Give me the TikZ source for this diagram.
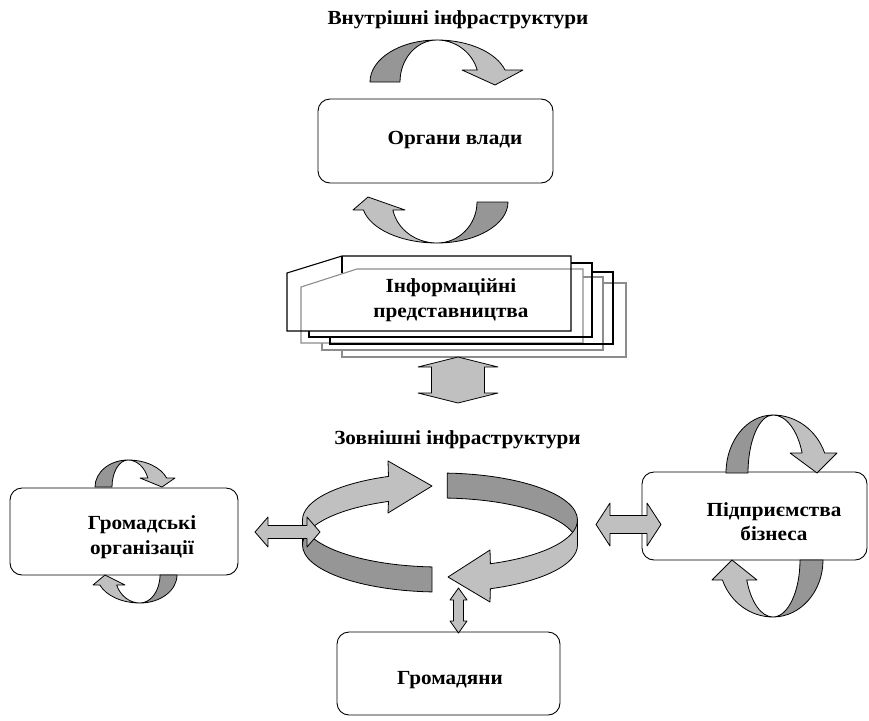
\documentclass[tikz,border=0pt]{standalone}
\usepackage{fontspec}
\setmainfont{Liberation Serif}
\newfontfamily\lblfont{Liberation Serif}[FakeStretch=1.06]
\definecolor{dkgray}{RGB}{150,150,150}
\definecolor{ltgray}{RGB}{192,192,192}
\definecolor{shadowgray}{RGB}{140,140,140}
\tikzset{
  dk/.style={fill=dkgray,draw=black,line width=0.8pt,line join=round},
  lt/.style={fill=ltgray,draw=black,line width=0.8pt,line join=round},
  box/.style={draw=black,line width=0.9pt,rounded corners=12pt},
  doc/.style={draw=black,line width=1.1pt},
  docshadow/.style={draw=shadowgray,line width=1.1pt},
  lbl/.style={font=\lblfont\bfseries\fontsize{20}{24.5}\selectfont,align=center,inner sep=0pt}
}
% twisted curved arrow: #1 dark outer r, #2 dark inner r, #3 light outer r, #4 light inner r,
% #5 height, #6 head base level, #7 inner wing x, #8 outer wing x, #9 tip
\newcommand{\twistarrow}[9]{%
  \filldraw[dk] (-#1,0) arc[start angle=180,end angle=90,x radius=#1,y radius=#5]
     arc[start angle=90,end angle=180,x radius=#2,y radius=#5] -- cycle;
  \filldraw[lt] (0,#5) arc[start angle=90,end angle={asin(#6/#5)},x radius=#3,y radius=#5]
     -- (#8,#6) -- #9 -- (#7,#6) -- ({#4*cos(asin(#6/#5))},#6)
     arc[start angle={asin(#6/#5)},end angle=90,x radius=#4,y radius=#5] -- cycle;
}
% horizontal double arrow: x1, x2, yc, head half height, shaft half height, head length
\newcommand{\hdarrow}[6]{%
  \filldraw[lt] (#1,#3) -- ({#1+#6},{#3-#4}) -- ({#1+#6},{#3-#5}) -- ({#2-#6},{#3-#5})
    -- ({#2-#6},{#3-#4}) -- (#2,#3) -- ({#2-#6},{#3+#4}) -- ({#2-#6},{#3+#5})
    -- ({#1+#6},{#3+#5}) -- ({#1+#6},{#3+#4}) -- cycle;
}
% vertical double arrow: y1, y2, xc, head half width, shaft half width, head length
\newcommand{\vdarrow}[6]{%
  \filldraw[lt] (#3,#1) -- ({#3-#4},{#1+#6}) -- ({#3-#5},{#1+#6}) -- ({#3-#5},{#2-#6})
    -- ({#3-#4},{#2-#6}) -- (#3,#2) -- ({#3+#4},{#2-#6}) -- ({#3+#5},{#2-#6})
    -- ({#3+#5},{#1+#6}) -- ({#3+#4},{#1+#6}) -- cycle;
}
\begin{document}
\begin{tikzpicture}[x=1pt,y=-1pt]
\useasboundingbox (0,0) rectangle (869,720);

% titles
\node[lbl] (inner) at (458,20) {Внутрішні інфраструктури};
\node[lbl] (outer) at (457.5,440) {Зовнішні інфраструктури};

% boxes
\draw[box] (318,99) rectangle (553,183);
\node[lbl] (organy) at (455,140) {Органи влади};
\draw[box] (10,488) rectangle (238,575);
\node[lbl] (gromorg) at (142,537) {Громадські\\організації};
\draw[box] (642,472) rectangle (867,560);
\node[lbl] (biz) at (774,521.5) {Підприємства\\бізнеса};
\draw[box] (337,632) rectangle (560,715);
\node[lbl] (gromadyany) at (450,680) {Громадяни};

% curved twisted arrows
\begin{scope}[shift={(437,82)},yscale=-1]
  \twistarrow{67}{37}{71}{42}{42}{12}{25}{86}{(58,-3)}
\end{scope}
\begin{scope}[shift={(437,202)},xscale=-1]
  \twistarrow{71}{40}{75}{45}{41}{8}{32}{84}{(69,-5)}
\end{scope}
\begin{scope}[shift={(128,487)},yscale=-1]
  \twistarrow{33}{16}{41}{21}{27}{9}{12}{47}{(34,0)}
\end{scope}
\begin{scope}[shift={(140,575)},xscale=-1]
  \twistarrow{37}{20}{43}{25}{28}{10}{15}{47}{(35,0)}
\end{scope}
\begin{scope}[shift={(773,473)},yscale=-1]
  \twistarrow{47}{25}{55}{31}{58}{20}{17}{64}{(44,0)}
\end{scope}
\begin{scope}[shift={(773,560)},xscale=-1]
  \twistarrow{50}{27}{54}{28}{57}{20}{16}{61}{(41,0)}
\end{scope}

% document stack: gray shadow
\draw[docshadow] (301,287) -- (357,269) -- (583,269) -- (583,343) -- (301,343) -- cycle;
\draw[docshadow] (583,277) -- (603,277) -- (603,350) -- (322,350) -- (322,343);
\draw[docshadow] (603,283) -- (626,283) -- (626,357) -- (342,357) -- (342,350);
% document stack: black pages
\draw[doc] (287,273) -- (342,256) -- (571,256) -- (571,331) -- (287,331) -- cycle;
\draw[doc] (342,256) -- (342,273);
\draw[doc] (571,263) -- (592,263) -- (592,337) -- (309,337) -- (309,331);
\draw[doc] (592,272) -- (613,272) -- (613,344) -- (330,344) -- (330,337);
\node[lbl] (info) at (451,300) {Інформаційні\\представництва};

% big vertical double arrow
\vdarrow{357}{403}{458}{40}{26.5}{10}

% ring
\filldraw[dk] (447.2,473.1) arc[start angle=273,end angle=360,x radius=137.5,y radius=47]
  -- (577.5,545) arc[start angle=360,end angle=273,x radius=137.5,y radius=47] -- cycle;
\filldraw[lt] (577.5,545) arc[start angle=0,end angle=68.5,x radius=137.5,y radius=47]
  -- (490,602) -- (448,577) -- (490,550) -- ({440+137.5*cos(68.5)},{520+47*sin(68.5)})
  arc[start angle=68.5,end angle=0,x radius=137.5,y radius=47] -- cycle;
\filldraw[dk] (302.5,520) arc[start angle=180,end angle=93.3,x radius=137.5,y radius=47]
  -- ({440+137.5*cos(93.3)},{545+47*sin(93.3)})
  arc[start angle=93.3,end angle=180,x radius=137.5,y radius=47] -- cycle;
\filldraw[lt] (302.5,520) arc[start angle=180,end angle=248,x radius=137.5,y radius=47]
  -- (388,461) -- (432,486) -- (388,513) -- ({440+137.5*cos(248)},{545+47*sin(248)})
  arc[start angle=248,end angle=180,x radius=137.5,y radius=47] -- cycle;

% small double arrows
\hdarrow{255}{320}{532}{15}{6.5}{13}
\hdarrow{596}{661}{524.5}{21.5}{9}{14}
\vdarrow{588}{633}{458.5}{8.5}{5}{12}
\end{tikzpicture}
\end{document}
